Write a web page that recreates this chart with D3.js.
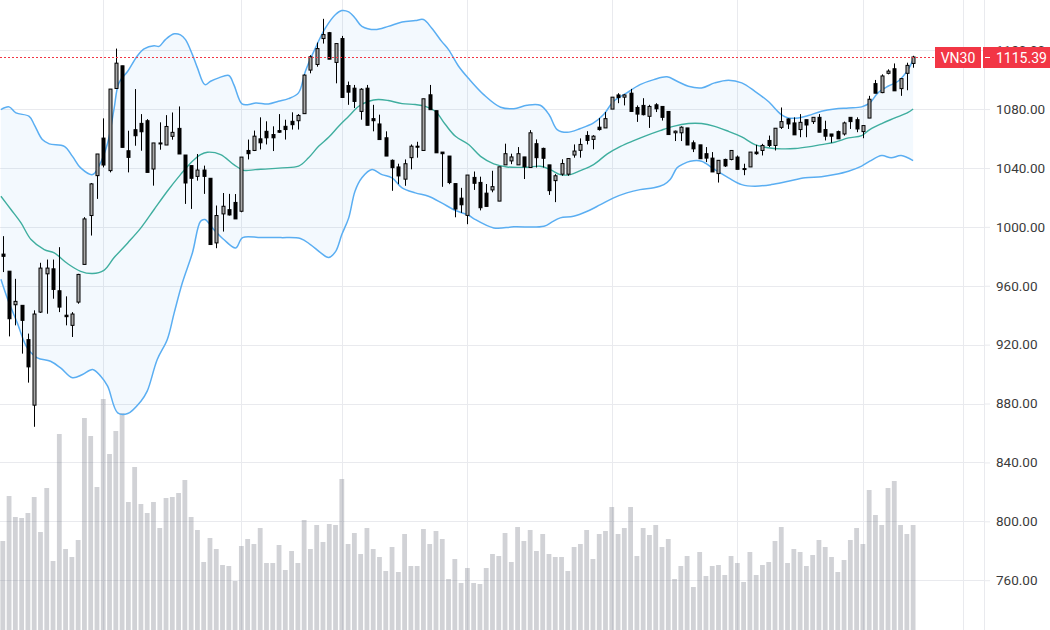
<!DOCTYPE html>
<html>
<head>
<meta charset="utf-8">
<script src="https://cdn.jsdelivr.net/npm/d3@7/dist/d3.min.js"></script>
<style>
  html, body { margin: 0; padding: 0; background: #fff; }
  .chart { width: 1050px; height: 630px; overflow: hidden; }
  text { font-family: Roboto, "Liberation Sans", Arial, sans-serif; }
</style>
</head>
<body>
<div class="chart"></div>
<script>
// daily bars, [open, high, low, close]
var candles = [
  [981.5, 993.7, 969.3, 980.0], [969.9, 969.9, 925.6, 937.6], [947.1, 964.7, 933.1, 949.4], [946.7, 946.7, 913.9, 936.5],
  [923.4, 927.5, 894.2, 904.9], [878.9, 943.3, 864.2, 940.8], [942.1, 975.6, 941.5, 972.0], [968.1, 977.8, 941.0, 972.0],
  [971.5, 977.8, 951.2, 957.5], [956.6, 986.2, 942.1, 945.5], [940.0, 952.8, 933.1, 939.0], [933.1, 942.1, 925.2, 940.8],
  [948.9, 968.1, 947.8, 967.7], [974.5, 1006.6, 974.5, 1005.4], [1007.7, 1029.8, 994.1, 1029.2], [1034.8, 1049.5, 1019.0, 1049.5],
  [1060.3, 1073.7, 1040.4, 1042.0], [1038.2, 1093.6, 1037.0, 1093.6], [1094.0, 1121.1, 1094.0, 1111.2], [1109.4, 1109.4, 1054.0, 1054.0],
  [1051.7, 1065.3, 1037.0, 1047.2], [1066.0, 1093.6, 1055.1, 1061.9], [1070.3, 1076.6, 1051.7, 1064.6], [1072.1, 1073.2, 1037.0, 1037.0],
  [1039.3, 1057.0, 1028.0, 1057.0], [1057.0, 1071.0, 1052.4, 1056.5], [1055.6, 1075.9, 1055.6, 1068.2], [1061.5, 1077.7, 1059.2, 1064.2],
  [1066.9, 1081.8, 1049.5, 1049.5], [1048.8, 1048.8, 1015.6, 1029.8], [1041.6, 1041.6, 1012.2, 1033.0], [1034.3, 1049.5, 1031.4, 1038.6],
  [1038.6, 1041.6, 1022.4, 1034.3], [1033.0, 1033.0, 988.0, 988.0], [989.1, 1014.5, 985.5, 1007.7], [1008.8, 1023.0, 996.8, 1014.0],
  [1011.7, 1022.4, 1007.7, 1008.1], [1016.6, 1022.3, 1005.4, 1005.4], [1010.6, 1047.4, 1009.9, 1047.4], [1051.9, 1059.3, 1045.8, 1049.7],
  [1051.9, 1065.4, 1051.5, 1061.6], [1059.8, 1074.4, 1052.6, 1057.1], [1064.9, 1071.7, 1056.0, 1060.5], [1062.7, 1068.3, 1051.5, 1060.5],
  [1065.4, 1076.6, 1063.8, 1064.3], [1068.3, 1072.8, 1059.3, 1066.1], [1071.7, 1077.8, 1066.1, 1069.4], [1072.1, 1076.6, 1066.1, 1075.7],
  [1076.9, 1103.6, 1076.9, 1103.1], [1106.5, 1116.6, 1104.3, 1115.5], [1110.3, 1125.2, 1108.8, 1121.1], [1127.9, 1141.3, 1124.5, 1130.6],
  [1131.9, 1132.4, 1113.9, 1113.9], [1111.7, 1124.5, 1097.5, 1124.5], [1127.9, 1129.7, 1087.9, 1087.9], [1096.0, 1098.7, 1082.9, 1091.5],
  [1094.2, 1096.4, 1080.7, 1085.2], [1078.4, 1094.2, 1072.8, 1093.5], [1094.2, 1096.4, 1069.0, 1069.0], [1073.5, 1082.9, 1064.9, 1072.1],
  [1069.9, 1076.2, 1059.3, 1059.3], [1060.5, 1064.9, 1048.1, 1048.1], [1045.2, 1045.8, 1024.5, 1040.2], [1040.7, 1042.9, 1029.0, 1034.6],
  [1032.4, 1045.8, 1027.9, 1042.9], [1047.0, 1056.0, 1039.1, 1054.8], [1054.8, 1057.8, 1047.0, 1054.2], [1051.9, 1087.0, 1051.9, 1087.0],
  [1089.7, 1096.4, 1079.6, 1079.6], [1078.9, 1078.9, 1050.3, 1050.3], [1050.8, 1050.8, 1027.2, 1049.7], [1048.1, 1048.1, 1029.0, 1030.1],
  [1029.4, 1029.4, 1006.5, 1012.1], [1019.5, 1026.5, 1009.5, 1015.0], [1007.8, 1035.2, 1001.8, 1035.2], [1033.6, 1037.6, 1025.1, 1029.6],
  [1030.2, 1034.1, 1011.2, 1013.0], [1022.9, 1029.1, 1013.9, 1013.9], [1025.1, 1038.1, 1023.5, 1027.3], [1017.5, 1040.8, 1017.5, 1040.8],
  [1042.1, 1056.5, 1042.1, 1049.7], [1044.8, 1049.7, 1042.6, 1047.5], [1042.1, 1054.2, 1042.1, 1049.7], [1047.5, 1047.5, 1032.5, 1040.8],
  [1040.3, 1065.7, 1040.3, 1063.9], [1056.5, 1059.4, 1040.3, 1047.0], [1053.3, 1053.8, 1040.3, 1046.6], [1042.1, 1042.1, 1021.7, 1024.6],
  [1031.4, 1035.8, 1016.8, 1034.7], [1035.8, 1045.9, 1034.7, 1043.0], [1035.8, 1046.4, 1034.7, 1046.4], [1048.8, 1056.0, 1047.0, 1051.5],
  [1052.0, 1060.1, 1047.0, 1056.0], [1062.1, 1065.0, 1056.0, 1058.7], [1059.4, 1062.3, 1052.7, 1061.6], [1067.7, 1073.9, 1065.4, 1066.1],
  [1067.2, 1078.0, 1067.2, 1073.5], [1080.0, 1088.1, 1080.0, 1088.1], [1089.6, 1090.8, 1084.0, 1087.8], [1088.1, 1090.1, 1082.5, 1089.6],
  [1090.8, 1093.7, 1078.4, 1078.4], [1081.1, 1082.5, 1071.3, 1076.6], [1082.5, 1087.4, 1075.7, 1076.2], [1075.1, 1082.9, 1067.2, 1081.8],
  [1082.9, 1084.0, 1078.0, 1080.2], [1081.8, 1081.8, 1072.2, 1074.4], [1078.4, 1078.4, 1062.7, 1062.7], [1063.9, 1065.4, 1058.3, 1065.0],
  [1063.9, 1068.3, 1058.3, 1067.7], [1067.2, 1067.2, 1055.6, 1055.6], [1057.1, 1058.7, 1050.8, 1053.0], [1055.7, 1055.7, 1046.3, 1046.3],
  [1049.7, 1054.2, 1044.0, 1046.7], [1046.7, 1050.8, 1037.3, 1037.3], [1036.2, 1045.2, 1030.1, 1045.2], [1045.8, 1046.3, 1040.7, 1041.4],
  [1045.8, 1051.9, 1045.2, 1051.9], [1047.4, 1048.5, 1039.1, 1039.1], [1039.6, 1042.9, 1035.1, 1039.1], [1040.7, 1050.8, 1040.7, 1050.8],
  [1050.8, 1055.7, 1049.0, 1049.7], [1051.9, 1056.4, 1048.5, 1055.3], [1058.7, 1062.0, 1054.2, 1055.3], [1055.3, 1067.0, 1051.9, 1067.0],
  [1067.6, 1081.1, 1066.5, 1071.5], [1073.3, 1073.7, 1066.5, 1069.9], [1070.6, 1074.4, 1062.5, 1062.5], [1066.1, 1076.6, 1060.9, 1071.0],
  [1072.8, 1072.8, 1060.9, 1069.2], [1071.5, 1074.4, 1069.9, 1074.4], [1074.4, 1076.6, 1064.3, 1064.3], [1066.1, 1072.1, 1058.7, 1061.6],
  [1063.1, 1063.1, 1057.1, 1061.6], [1064.7, 1065.4, 1059.8, 1059.8], [1063.1, 1071.5, 1062.0, 1070.6], [1074.4, 1074.4, 1066.5, 1071.5],
  [1072.8, 1074.4, 1064.3, 1066.5], [1064.7, 1068.8, 1060.2, 1068.8], [1073.9, 1089.0, 1073.9, 1086.7], [1097.3, 1099.8, 1090.8, 1090.8],
  [1091.2, 1103.6, 1090.8, 1102.5], [1104.3, 1107.0, 1103.6, 1105.8], [1107.4, 1111.0, 1092.4, 1092.4], [1093.9, 1100.7, 1089.0, 1100.7],
  [1104.3, 1111.5, 1092.8, 1109.7], [1111.0, 1116.2, 1108.1, 1115.39]
];

// volume, same order as candles (arbitrary units)
var volumes = [
  89, 134, 113, 112, 117, 133, 98, 142, 69, 196, 81, 73, 90, 212, 194, 143, 231, 176, 199, 217,
  128, 163, 126, 117, 128, 102, 132, 133, 137, 150, 113, 100, 68, 92, 81, 65, 64, 49, 84, 91,
  86, 102, 67, 67, 85, 60, 79, 67, 110, 81, 105, 88, 106, 105, 151, 86, 97, 76, 102, 81,
  73, 59, 83, 58, 96, 64, 64, 101, 86, 99, 91, 51, 71, 47, 62, 47, 46, 62, 76, 74,
  97, 68, 103, 89, 100, 79, 96, 76, 73, 73, 59, 83, 86, 100, 71, 96, 99, 123, 96, 102,
  123, 74, 102, 95, 105, 83, 91, 51, 64, 74, 43, 78, 54, 64, 65, 55, 74, 67, 48, 78,
  55, 65, 68, 89, 103, 67, 81, 78, 64, 75, 90, 83, 73, 58, 70, 90, 102, 86, 140, 115,
  105, 142, 149, 105, 96, 105
];

// bollinger bands, [bar index, price]
var upperBand = [[-0.3,1079.7],[1,1081.5],[2.1,1077.4],[4.2,1075.1],[5,1069.5],[6.3,1059.3],[7.4,1056.4],[9.8,1054.7],[11.1,1047.9],[12.4,1040.1],[14.3,1035.5],[15.3,1041.2],[16.7,1057],[17.7,1079.7],[18.5,1097.8],[19.9,1105.7],[21.4,1115.9],[22.5,1120.9],[24.1,1123.1],[24.9,1122.6],[25.9,1127.2],[27.3,1131.1],[28.3,1130.4],[29.1,1127.2],[30.2,1117],[31,1108],[32.2,1096.6],[33.1,1098.9],[34.4,1101.2],[36,1102.8],[36.8,1096.6],[38.1,1083.5],[39.2,1083.1],[40.3,1084.2],[42.3,1083.5],[43.9,1085.3],[45.5,1087.1],[47.1,1091],[48.2,1105.7],[49.8,1121.6],[51.4,1135.1],[53,1144.2],[54,1146.9],[55.1,1146],[56.1,1141.9],[57.2,1136.2],[59.3,1134],[61.4,1136.2],[63.6,1139.2],[65.7,1140.1],[67,1140.8],[68.3,1135.1],[69.9,1126],[71,1120.4],[72.6,1109.1],[74.2,1100.7],[76.6,1089.8],[79.3,1081.2],[81.4,1080.3],[83.5,1082.6],[85.6,1082.6],[87,1076.3],[88.3,1066.1],[89.9,1064.2],[92,1066.8],[94.1,1070.6],[95.7,1076.3],[97.3,1085.3],[99.4,1091],[101.5,1096.6],[103.7,1100],[105.8,1101.9],[107.4,1098.9],[109.2,1095.5],[111.3,1094.4],[113.4,1097.8],[115.6,1099.6],[117.7,1097.8],[119.8,1092.1],[121.9,1085.3],[124,1076.3],[125.1,1074],[126.7,1074],[128.3,1075.6],[130.4,1078.5],[132.5,1080.1],[134.7,1080.8],[136.8,1081.5],[138.1,1084.2],[139.4,1091],[141,1095.5],[142.6,1098.9],[144.2,1106.8],[145,1113.6]];
var middleBand = [[-0.3,1020.8],[1.3,1011.8],[2.9,1002.7],[4.5,991.4],[6.6,984.6],[8.2,982.3],[10.3,975.1],[12.4,969.8],[14.3,968.3],[16.1,970.5],[17.7,979],[19.9,989.1],[22,999.3],[24.1,1011.8],[26.2,1024.2],[28.3,1035.5],[30.2,1044.6],[31.5,1049.1],[32.6,1050.7],[34.7,1049.1],[36.8,1042.3],[38.4,1038.4],[40.2,1038.9],[42.3,1039.4],[44.5,1040.1],[47.1,1041.2],[48.7,1046.9],[50.3,1054.7],[51.9,1060.8],[53.5,1068.3],[55.1,1075.1],[56.7,1081.9],[58.3,1085.3],[59.8,1086.5],[61.4,1085.8],[63.6,1083.7],[65.7,1083.1],[67.3,1081.9],[68.9,1078.5],[70.5,1069.5],[72.1,1061.5],[74.2,1055.9],[76.1,1047.9],[78.2,1042.8],[80.3,1040.7],[83.5,1040.5],[85.6,1041.2],[87.2,1038.9],[88.8,1035.5],[90.4,1035.5],[92,1038.2],[94.1,1042.3],[96.3,1049.6],[98.4,1054.7],[100.5,1058.6],[102.6,1062.2],[104.7,1065.4],[106.8,1068.3],[109.2,1070.2],[111.3,1070.2],[113.4,1068.3],[115.6,1064.9],[117.7,1061.1],[119.8,1055.9],[121.9,1053.7],[124,1053],[126.2,1053.2],[128.3,1054.3],[130.4,1055.9],[132.5,1057.5],[134.7,1060.4],[136.8,1062],[138.1,1066.1],[140,1070.2],[142.1,1074],[144.2,1077.8],[145,1080.1]];
var lowerBand = [[-0.3,964.4],[0.8,950.6],[2.3,934.8],[3.9,917.8],[5.5,911],[7.6,908.7],[9.2,904.2],[11.1,897.5],[12.7,899.7],[14.3,903.1],[15.6,898.5],[16.7,891.8],[18.3,873.7],[19.9,873.2],[22,881.6],[23,888.4],[24.6,909.9],[26.2,923.5],[27.3,941.6],[28.6,962],[30.2,982.3],[31.5,1003.8],[32.2,1005],[33.6,998.2],[35.2,991.4],[37.1,985.7],[38.2,992.7],[41.1,992.7],[44.3,992.7],[47.4,992.1],[49,988],[50.6,982.5],[51.9,979.2],[53,983.2],[54,994.8],[55.1,1006.1],[56.1,1024.2],[57.2,1033.3],[58.8,1038.9],[60.4,1035.5],[62,1033.3],[63.6,1026.5],[65.7,1023.1],[67.8,1020.8],[69.9,1016.3],[72.1,1011.1],[74.2,1007.9],[75,1005.6],[78.2,999.3],[81.4,1000],[86.2,1000.4],[87.5,1003.4],[88.8,1006.1],[90.9,1007.2],[93.1,1010.6],[95.2,1015.1],[97.3,1019.7],[99.4,1023.1],[101.5,1025.3],[103.7,1026.5],[105.3,1028.7],[106.3,1032.1],[107.4,1040.1],[108.4,1042.8],[109.5,1044.6],[111.3,1044.6],[113.4,1038.9],[115.6,1033.3],[117.7,1028.7],[119.8,1027.6],[122.4,1028.7],[125.1,1031],[127.8,1033.3],[130.4,1034],[132.5,1035.5],[134.7,1037.8],[136.8,1041.3],[138.1,1044.6],[140,1048.4],[141.5,1046.9],[143.1,1048.4],[145,1045]];

var priceTicks = [760, 800, 840, 880, 920, 960, 1000, 1040, 1080, 1120];
var monthStarts = [16, 38, 54, 74, 97, 117, 137, 153];   // bar index of each month's first session
var symbol = "VN30",
    lastPrice = 1115.39;

var width = 1050,
    height = 630,
    plotRight = 984;

var svg = d3.select(".chart").append("svg")
  .attr("width", width)
  .attr("height", height);

var x = d3.scaleLinear()
  .domain([0, 145])
  .range([2.8, 2.8 + 145 * 6.278]);

var y = d3.scaleLinear()
  .domain([760, 1120])
  .range([580.2, 50.2]);

var yVol = d3.scaleLinear()
  .domain([0, 250])
  .range([630, 380]);

var px = i => Math.round(x(i));

svg.append("defs").append("clipPath")
  .attr("id", "plot")
  .append("rect")
  .attr("width", plotRight)
  .attr("height", height);

// grid
var grid = svg.append("g");
grid.selectAll(".hgrid")
  .data(priceTicks)
  .enter().append("line")
  .attr("x1", 0).attr("x2", plotRight)
  .attr("y1", d => Math.round(y(d)) + 0.5)
  .attr("y2", d => Math.round(y(d)) + 0.5)
  .attr("stroke", "#e9eaee");
grid.selectAll(".vgrid")
  .data(monthStarts)
  .enter().append("line")
  .attr("x1", d => px(d) + 0.5).attr("x2", d => px(d) + 0.5)
  .attr("y1", 0).attr("y2", height)
  .attr("stroke", "#e9eaee");

var plot = svg.append("g").attr("clip-path", "url(#plot)");

// volume
plot.append("g").selectAll("rect")
  .data(volumes)
  .enter().append("rect")
  .attr("x", (d, i) => x(i) - 2.4)
  .attr("width", 4.8)
  .attr("y", d => yVol(d))
  .attr("height", d => yVol(0) - yVol(d))
  .attr("fill", "rgba(120,123,134,0.34)");

// bollinger bands
var bandLine = d3.line()
  .x(d => x(d[0]))
  .y(d => y(d[1]))
  .curve(d3.curveCatmullRom.alpha(0.5));

var fillPath = bandLine(upperBand) + "L" + bandLine(lowerBand.slice().reverse()).slice(1) + "Z";
plot.append("path")
  .attr("d", fillPath)
  .attr("fill", "rgba(33,150,243,0.055)");

plot.append("path")
  .attr("d", bandLine(middleBand))
  .attr("fill", "none")
  .attr("stroke", "#3fae9f")
  .attr("stroke-width", 1.4);

[upperBand, lowerBand].forEach(band => {
  plot.append("path")
    .attr("d", bandLine(band))
    .attr("fill", "none")
    .attr("stroke", "#5aaef2")
    .attr("stroke-width", 1.5);
});

// candles
var candle = plot.append("g").selectAll("g")
  .data(candles)
  .enter().append("g");

candle.append("line")
  .attr("x1", (d, i) => px(i) + 0.5)
  .attr("x2", (d, i) => px(i) + 0.5)
  .attr("y1", d => y(d[1]))
  .attr("y2", d => y(d[2]))
  .attr("stroke", "#000")
  .attr("stroke-width", 1);

candle.append("rect")
  .attr("x", (d, i) => px(i) - 1)
  .attr("width", 3)
  .attr("y", d => y(Math.max(d[0], d[3])))
  .attr("height", d => Math.max(1, Math.abs(y(d[0]) - y(d[3]))))
  .attr("fill", d => d[3] >= d[0] ? "#a9a9a9" : "#000")
  .attr("stroke", "#000")
  .attr("stroke-width", 1);

// last price line
svg.append("line")
  .attr("x1", 0).attr("x2", 935)
  .attr("y1", Math.round(y(lastPrice)) + 0.5)
  .attr("y2", Math.round(y(lastPrice)) + 0.5)
  .attr("stroke", "#f23645")
  .attr("stroke-width", 1)
  .attr("stroke-dasharray", "2,2");

// price axis
svg.append("line")
  .attr("x1", plotRight + 0.5).attr("x2", plotRight + 0.5)
  .attr("y1", 0).attr("y2", height)
  .attr("stroke", "#e9eaee");

var axis = svg.append("g")
  .attr("transform", `translate(${plotRight}, 0)`)
  .call(d3.axisRight(y)
    .tickValues(priceTicks)
    .tickFormat(d3.format(".2f"))
    .tickSize(6)
    .tickPadding(6));
axis.select(".domain").remove();
axis.selectAll(".tick line").attr("stroke", "#e9eaee");
axis.selectAll(".tick text")
  .attr("fill", "#3b3b3b")
  .style("font-size", "13.5px")
  .style("font-family", "Roboto, 'Liberation Sans', Arial, sans-serif");

// symbol + last price tag
var tagY = Math.round(y(lastPrice)) - 10;
svg.append("rect")
  .attr("x", 935).attr("y", tagY)
  .attr("width", 46).attr("height", 21)
  .attr("fill", "#f23645");
svg.append("text")
  .attr("x", 958).attr("y", tagY + 11)
  .attr("text-anchor", "middle")
  .attr("dominant-baseline", "central")
  .attr("fill", "#fff")
  .style("font-size", "14px")
  .text(symbol);
svg.append("rect")
  .attr("x", 983).attr("y", tagY)
  .attr("width", 67).attr("height", 21)
  .attr("fill", "#f23645");
svg.append("line")
  .attr("x1", 985).attr("x2", 990)
  .attr("y1", tagY + 10.5).attr("y2", tagY + 10.5)
  .attr("stroke", "#fff");
svg.append("text")
  .attr("x", 996).attr("y", tagY + 11)
  .attr("dominant-baseline", "central")
  .attr("fill", "#fff")
  .style("font-size", "14px")
  .text(d3.format(".2f")(lastPrice));
</script>
</body>
</html>
